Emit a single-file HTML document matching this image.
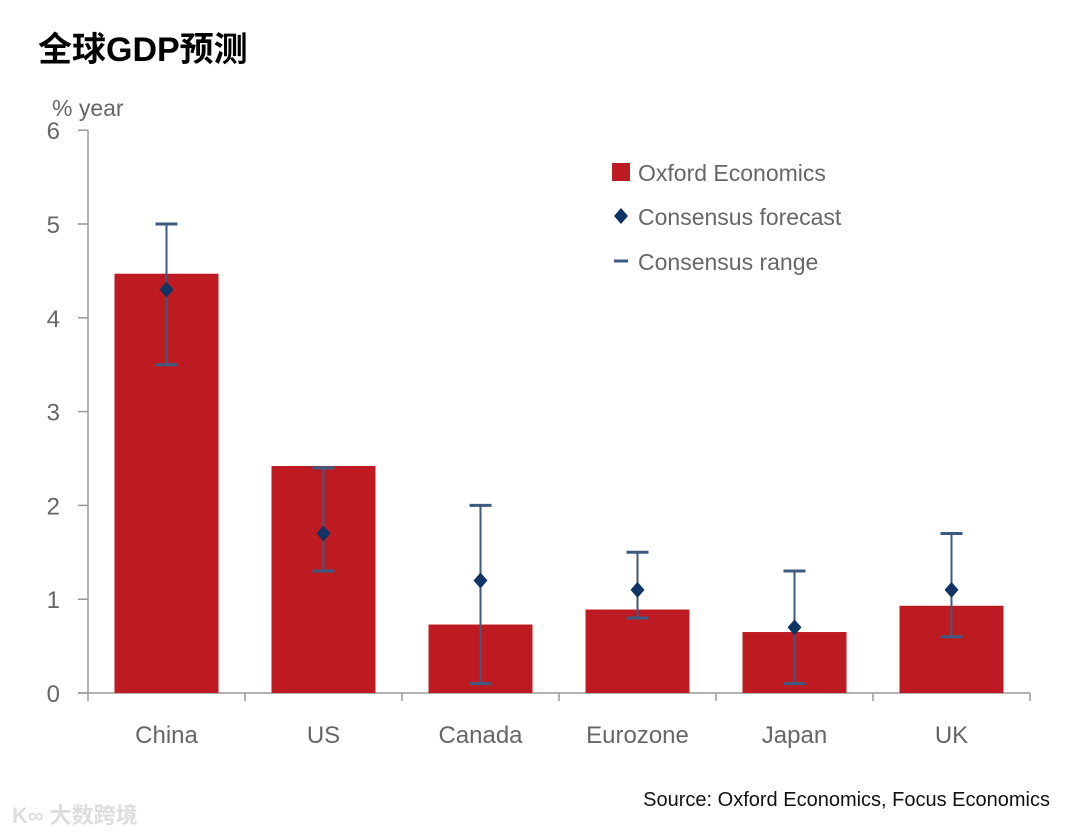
<!DOCTYPE html>
<html><head><meta charset="utf-8"><style>
body{margin:0;background:#fff;width:1080px;height:833px;overflow:hidden;font-family:"Liberation Sans","Noto Sans CJK SC",sans-serif}
#title{position:absolute;left:38px;top:22px;font-size:34px;font-weight:bold;color:#000}
#source{position:absolute;right:30px;top:789px;font-size:20px;color:#111}
#wm{position:absolute;left:12px;top:798px;font-size:22px;color:#ddd;font-weight:bold}
svg{position:absolute;left:0;top:0}
</style></head><body>
<div id="title">全球GDP预测</div>
<svg id="chart" width="1080" height="833"></svg>
<div id="source">Source: Oxford Economics, Focus Economics</div>
<div id="wm">K∞ 大数跨境</div>
<script>
const categories=["China","US","Canada","Eurozone","Japan","UK"];
const oxford=[4.47,2.42,0.73,0.89,0.65,0.93];
const consensus=[4.3,1.7,1.2,1.1,0.7,1.1];
const rangeLow=[3.5,1.3,0.1,0.8,0.1,0.6];
const rangeHigh=[5.0,2.4,2.0,1.5,1.3,1.7];
const yTicks=[0,1,2,3,4,5,6];
const NS="http://www.w3.org/2000/svg";
const svg=document.getElementById('chart');
const x0=88,catW=157,y0=693,yUnit=93.8;
const y=v=>y0-v*yUnit;
const cx=i=>x0+catW*(i+0.5);
function mk(t,a,p){const e=document.createElementNS(NS,t);for(const k in a)e.setAttribute(k,a[k]);(p||svg).appendChild(e);return e;}
const axC="#999",txC="#666",red="#be1a22",navy="#3d5a80";
// y axis
const ya=mk('line',{x1:x0,y1:y(6),x2:x0,y2:y0,stroke:axC,'stroke-width':1.5});

yTicks.forEach(v=>{
 const t=mk('line',{x1:x0-10,y1:y(v),x2:x0,y2:y(v),stroke:axC,'stroke-width':1.5});
 
 const l=mk('text',{x:60,y:y(v)+9,'text-anchor':'end','font-size':24,fill:txC});l.textContent=v;
 
});
const yt=mk('text',{x:52,y:116,'font-size':23,fill:txC});yt.textContent='% year';

// x axis
const xa=mk('line',{x1:x0-10,y1:y0,x2:1030,y2:y0,stroke:axC,'stroke-width':1.5});

for(let i=0;i<=categories.length;i++){
 const t=mk('line',{x1:x0+catW*i,y1:y0,x2:x0+catW*i,y2:y0+8,stroke:axC,'stroke-width':1.5});
 
}
categories.forEach((c,i)=>{
 const b=mk('rect',{x:cx(i)-52,y:y(oxford[i]),width:104,height:oxford[i]*yUnit,fill:red});
 
 const e=mk('line',{x1:cx(i),y1:y(rangeHigh[i]),x2:cx(i),y2:y(rangeLow[i]),stroke:navy,'stroke-width':2});
 
 [rangeHigh[i],rangeLow[i]].forEach(v=>{
  const cap=mk('line',{x1:cx(i)-11,y1:y(v),x2:cx(i)+11,y2:y(v),stroke:navy,'stroke-width':3});
  
 });
 const py=y(consensus[i]),px=cx(i);
 const d=mk('polygon',{points:`${px},${py-8} ${px+7},${py} ${px},${py+8} ${px-7},${py}`,fill:'#0f3566'});
 
 const l=mk('text',{x:cx(i),y:743,'text-anchor':'middle','font-size':24,fill:txC});l.textContent=c;
 
});
// legend
const lg=mk('g',{});
const l1=mk('rect',{x:612,y:163,width:18,height:18,fill:red},lg);

const l2=mk('polygon',{points:'621,208 628,216 621,224 614,216',fill:'#0f3566'},lg);

const l3=mk('line',{x1:614,y1:261,x2:628,y2:261,stroke:navy,'stroke-width':3},lg);

[['Oxford Economics',181],['Consensus forecast',225],['Consensus range',270]].forEach(([t,yy])=>{
 const e=mk('text',{x:638,y:yy,'font-size':23,fill:txC},lg);e.textContent=t;
 
});
</script>
</body></html>
